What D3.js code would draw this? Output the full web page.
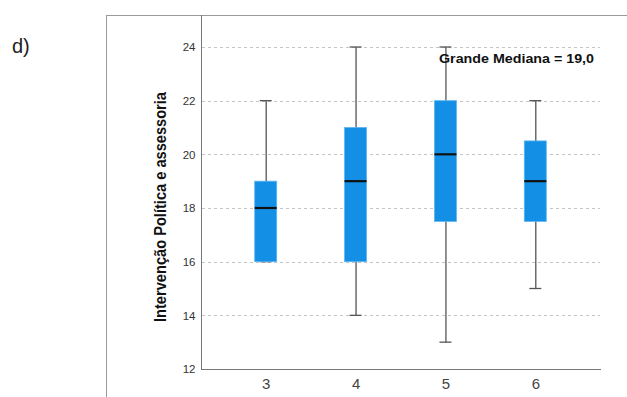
<!DOCTYPE html>
<html>
<head>
<meta charset="utf-8">
<script src="https://cdn.jsdelivr.net/npm/d3@7"></script>
<style>
  body { margin: 0; background: #fff; }
  svg { display: block; font-family: "Liberation Sans", Arial, sans-serif; }
</style>
</head>
<body>
<svg></svg>
<script>
const width = 627;
const height = 397;

// one box per category
const categories = ["3", "4", "5", "6"];
const mins    = [16, 14, 13, 15];
const q1s     = [16, 16, 17.5, 17.5];
const medians = [18, 19, 20, 19];
const q3s     = [19, 21, 22, 20.5];
const maxs    = [22, 24, 24, 22];
const yTicks  = [12, 14, 16, 18, 20, 22, 24];
const grandMedianLabel = "Grande Mediana = 19,0";

const boxes = categories.map(function (c, i) {
  return {cat: c, min: mins[i], q1: q1s[i], med: medians[i], q3: q3s[i], max: maxs[i]};
});

const svg = d3.select("svg")
  .attr("width", width)
  .attr("height", height);

const x = d3.scalePoint()
  .domain(categories)
  .range([201, 600])
  .padding(0.72);

const y = d3.scaleLinear()
  .domain([12, 24])
  .range([369, 47]);

// outer frame (top + left)
svg.append("line")
  .attr("x1", 106).attr("x2", width)
  .attr("y1", 15.5).attr("y2", 15.5)
  .attr("stroke", "#9a9a9a").attr("stroke-width", 1);
svg.append("line")
  .attr("x1", 106.5).attr("x2", 106.5)
  .attr("y1", 15).attr("y2", height)
  .attr("stroke", "#9a9a9a").attr("stroke-width", 1);

svg.append("text")
  .attr("x", 12).attr("y", 53)
  .attr("font-size", 20)
  .attr("fill", "#222")
  .text("d)");

// gridlines
svg.append("g")
  .selectAll("line")
  .data(yTicks.filter(function (t) { return t > 12; }))
  .enter().append("line")
    .attr("x1", 202).attr("x2", 600)
    .attr("y1", function (d) { return Math.round(y(d)) + 0.5; })
    .attr("y2", function (d) { return Math.round(y(d)) + 0.5; })
    .attr("stroke", "#c4c4c4")
    .attr("stroke-dasharray", "3,3");

// axes
const yAxis = svg.append("g")
  .attr("transform", "translate(201.5,0)")
  .call(d3.axisLeft(y).tickValues(yTicks).tickSize(0).tickPadding(6));
yAxis.select(".domain").remove();
yAxis.selectAll("text")
  .attr("font-size", 11.5)
  .attr("fill", "#333")
  .attr("font-family", "Liberation Sans, Arial, sans-serif");

svg.append("line")
  .attr("x1", 201.5).attr("x2", 201.5)
  .attr("y1", 15).attr("y2", 369.5)
  .attr("stroke", "#777");

const xAxis = svg.append("g")
  .attr("transform", "translate(0,369.5)")
  .call(d3.axisBottom(x).tickSize(0).tickPadding(9));
xAxis.select(".domain")
  .attr("d", "M201,0H601")
  .attr("stroke", "#777");
xAxis.selectAll("text")
  .attr("font-size", 15)
  .attr("fill", "#444")
  .attr("font-family", "Liberation Sans, Arial, sans-serif");

// y title
svg.append("text")
  .attr("transform", "translate(166,207) rotate(-90)")
  .attr("text-anchor", "middle")
  .attr("font-size", 16)
  .attr("font-weight", "bold")
  .attr("textLength", 230)
  .attr("lengthAdjust", "spacingAndGlyphs")
  .attr("fill", "#111")
  .text("Intervenção Política e assessoria");

// boxes
const boxW = 22;
const capW = 12;
const g = svg.selectAll(".box")
  .data(boxes)
  .enter().append("g")
    .attr("class", "box")
    .attr("transform", function (d) { return "translate(" + x(d.cat) + ",0)"; });

g.append("line")
  .attr("x1", 0.5).attr("x2", 0.5)
  .attr("y1", function (d) { return y(d.max); })
  .attr("y2", function (d) { return y(d.min); })
  .attr("stroke", "#555").attr("stroke-width", 1.3);
g.append("line")
  .attr("x1", -capW / 2).attr("x2", capW / 2)
  .attr("y1", function (d) { return y(d.max); })
  .attr("y2", function (d) { return y(d.max); })
  .attr("stroke", "#555").attr("stroke-width", 1.3);
g.append("line")
  .attr("x1", -capW / 2).attr("x2", capW / 2)
  .attr("y1", function (d) { return y(d.min); })
  .attr("y2", function (d) { return y(d.min); })
  .attr("stroke", "#555").attr("stroke-width", 1.3);

g.append("rect")
  .attr("x", -boxW / 2)
  .attr("width", boxW)
  .attr("y", function (d) { return y(d.q3); })
  .attr("height", function (d) { return y(d.q1) - y(d.q3); })
  .attr("fill", "#1390e6")
  .attr("stroke", "#5cb5f2")
  .attr("stroke-width", 0.8);

g.append("line")
  .attr("x1", -boxW / 2).attr("x2", boxW / 2)
  .attr("y1", function (d) { return y(d.med); })
  .attr("y2", function (d) { return y(d.med); })
  .attr("stroke", "#111").attr("stroke-width", 2.2);

svg.append("text")
  .attr("x", 439).attr("y", 63)
  .attr("font-size", 12.5)
  .attr("font-weight", "bold")
  .attr("textLength", 155)
  .attr("lengthAdjust", "spacingAndGlyphs")
  .attr("fill", "#111")
  .text(grandMedianLabel);
</script>
</body>
</html>
